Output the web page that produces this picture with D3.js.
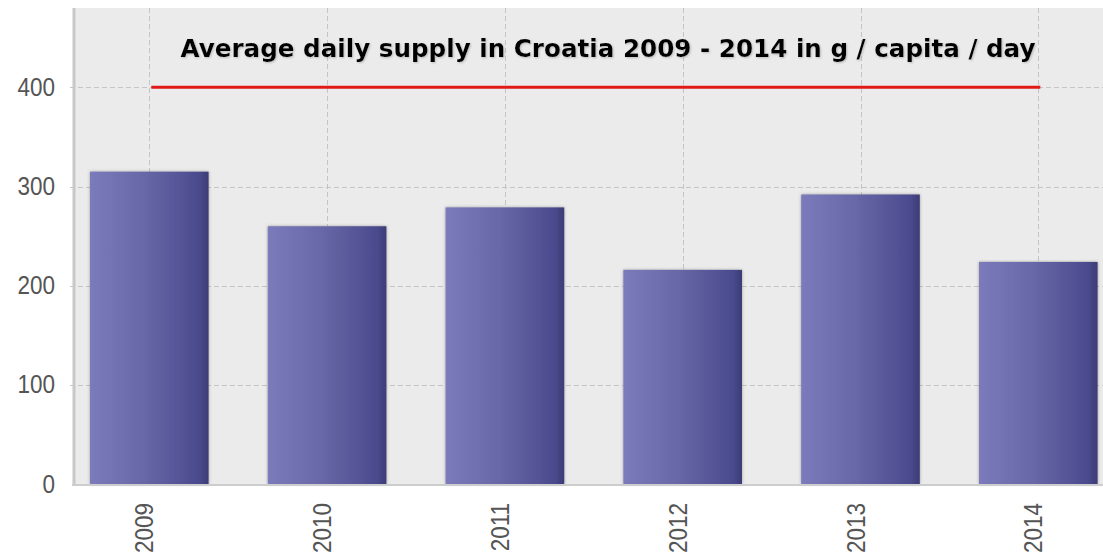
<!DOCTYPE html>
<html>
<head>
<meta charset="utf-8">
<script src="https://cdn.jsdelivr.net/npm/d3@7"></script>
<style>
  html, body { margin: 0; padding: 0; background: #ffffff; }
  svg { display: block; }
</style>
</head>
<body>
<svg id="chart" width="1103" height="557"></svg>
<script>
const categories = ["2009", "2010", "2011", "2012", "2013", "2014"];
const values = [315, 260, 279, 216, 292, 224];
const yTicks = [0, 100, 200, 300, 400];
const targetValue = 400;
const titleText = "Average daily supply in Croatia 2009 - 2014 in g / capita / day";

const W = 1103, H = 557;
const plot = { left: 74, right: 1103, top: 8, bottom: 485 };
const labelFont = "'Liberation Sans', Arial, sans-serif";

const svg = d3.select("#chart");
const defs = svg.append("defs");

const grad = defs.append("linearGradient").attr("id", "barGrad")
  .attr("x1", "0%").attr("x2", "100%").attr("y1", "0%").attr("y2", "0%");
grad.append("stop").attr("offset", "0%").attr("stop-color", "#7b7bbc");
grad.append("stop").attr("offset", "45%").attr("stop-color", "#6868a8");
grad.append("stop").attr("offset", "92%").attr("stop-color", "#4a4a8e");
grad.append("stop").attr("offset", "100%").attr("stop-color", "#3c3c76");

const shadow = defs.append("filter").attr("id", "barShadow")
  .attr("x", "-10%").attr("y", "-10%").attr("width", "120%").attr("height", "120%");
shadow.append("feDropShadow").attr("dx", 0).attr("dy", 0)
  .attr("stdDeviation", 1.6).attr("flood-color", "#555").attr("flood-opacity", 0.55);

const tshadow = defs.append("filter").attr("id", "titleShadow")
  .attr("x", "-5%").attr("y", "-30%").attr("width", "110%").attr("height", "160%");
tshadow.append("feDropShadow").attr("dx", 1).attr("dy", 1)
  .attr("stdDeviation", 0.8).attr("flood-color", "#999").attr("flood-opacity", 0.6);

const x = d3.scaleBand().domain(categories)
  .range([60.4, 1127.2]).paddingInner(0.333).paddingOuter(0.1665);
const y = d3.scaleLinear().domain([0, 480]).range([484.2, 8]);

// plot background
svg.append("rect")
  .attr("x", plot.left).attr("y", plot.top)
  .attr("width", plot.right - plot.left).attr("height", plot.bottom - plot.top)
  .attr("fill", "#ebebeb");

// horizontal grid
svg.append("g").selectAll("line").data(yTicks.slice(1)).join("line")
  .attr("x1", plot.left - 4).attr("x2", plot.right)
  .attr("y1", d => Math.round(y(d)) + 0.5).attr("y2", d => Math.round(y(d)) + 0.5)
  .attr("stroke", "#c4c4c4").attr("stroke-width", 1).attr("stroke-dasharray", "5,3");

// vertical grid
svg.append("g").selectAll("line").data(categories).join("line")
  .attr("x1", d => Math.round(x(d) + x.bandwidth() / 2) + 0.5)
  .attr("x2", d => Math.round(x(d) + x.bandwidth() / 2) + 0.5)
  .attr("y1", plot.top).attr("y2", plot.bottom)
  .attr("stroke", "#c4c4c4").attr("stroke-width", 1).attr("stroke-dasharray", "5,3");

// bars
svg.append("g").selectAll("rect").data(values).join("rect")
  .attr("x", (d, i) => x(categories[i]))
  .attr("y", d => y(d))
  .attr("width", x.bandwidth())
  .attr("height", d => y(0) - y(d))
  .attr("fill", "url(#barGrad)")
  .attr("filter", "url(#barShadow)");

// axes lines
svg.append("line").attr("x1", plot.left).attr("x2", plot.left)
  .attr("y1", plot.top).attr("y2", plot.bottom + 1)
  .attr("stroke", "#c8c8c8").attr("stroke-width", 3);
svg.append("line").attr("x1", plot.left - 2).attr("x2", plot.right)
  .attr("y1", plot.bottom).attr("y2", plot.bottom)
  .attr("stroke", "#cdcdcd").attr("stroke-width", 2);

// target line
svg.append("line")
  .attr("x1", x(categories[0]) + x.bandwidth() / 2 + 2)
  .attr("x2", x(categories[categories.length - 1]) + x.bandwidth() / 2 + 2)
  .attr("y1", y(targetValue)).attr("y2", y(targetValue))
  .attr("stroke", "#e01818").attr("stroke-width", 3);

// y axis labels
svg.append("g").selectAll("text").data(yTicks).join("text")
  .attr("transform", d => `translate(55,${y(d) + 8.5}) scale(0.9,1)`)
  .attr("text-anchor", "end")
  .attr("font-family", labelFont)
  .attr("font-size", 25).attr("fill", "#555")
  .text(d => d);

// x axis labels
svg.append("g").selectAll("text").data(categories).join("text")
  .attr("transform", d => `translate(${x(d) + x.bandwidth() / 2 + 4},503) rotate(-90) scale(0.9,1)`)
  .attr("text-anchor", "end")
  .attr("font-family", labelFont)
  .attr("font-size", 25).attr("fill", "#555")
  .text(d => d);

// title
svg.append("text")
  .attr("x", 608).attr("y", 57)
  .attr("text-anchor", "middle")
  .attr("font-family", "Tahoma, 'DejaVu Sans', Verdana, sans-serif")
  .attr("font-weight", "bold").attr("font-size", 24)
  .attr("textLength", 855).attr("lengthAdjust", "spacingAndGlyphs")
  .attr("fill", "#000")
  .attr("filter", "url(#titleShadow)")
  .text(titleText);
</script>
</body>
</html>
